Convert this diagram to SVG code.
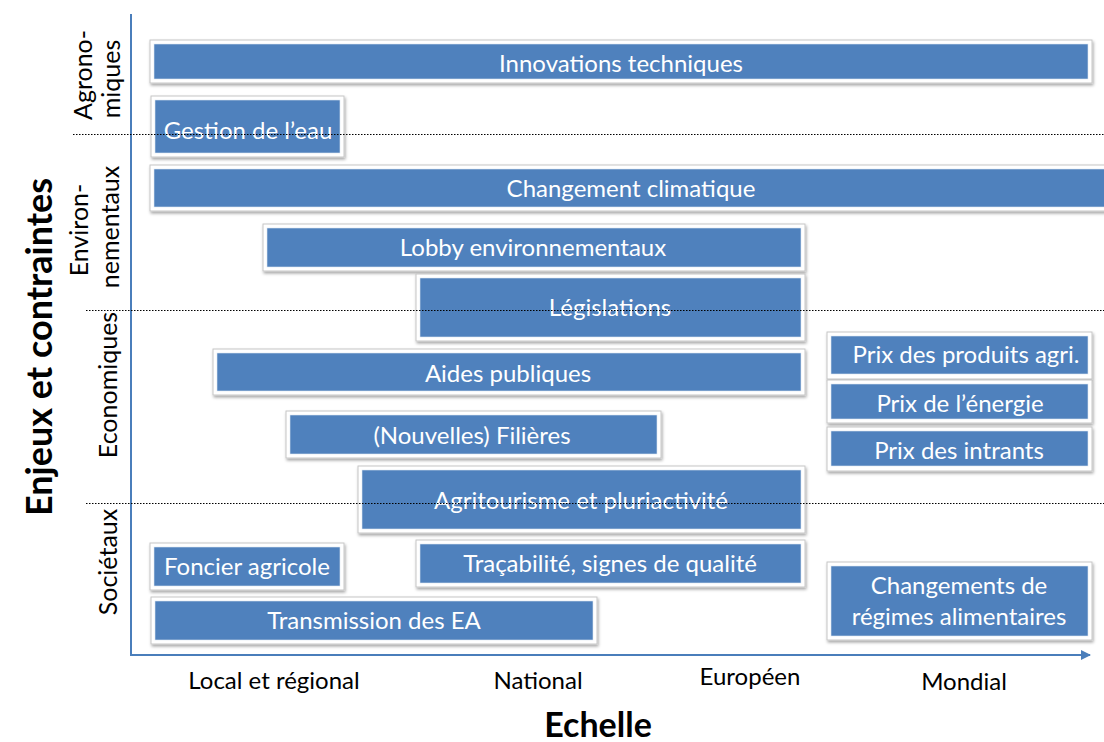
<svg xmlns="http://www.w3.org/2000/svg" width="1104" height="742" viewBox="0 0 1104 742">
<style>
.frame{fill:#ffffff;stroke:#c6c6c6;stroke-width:1;filter:url(#sh)}
.fill{fill:#4f81bd;stroke:#dce6f2;stroke-width:0.6}
.bt{font-family:Lato,"Open Sans",sans-serif;font-size:24px;fill:#ffffff;text-anchor:middle}
.lab{font-family:Lato,"Open Sans",sans-serif;font-size:24px;fill:#000000;text-anchor:middle}
.cat{font-family:Lato,"Open Sans",sans-serif;font-size:25px;fill:#000000;text-anchor:middle}
.title{font-family:Lato,"Open Sans",sans-serif;font-size:34px;font-weight:bold;fill:#000000;text-anchor:middle}
.dot{stroke:#000000;stroke-width:1.2;stroke-dasharray:1.5 1.5;fill:none}
.axis{stroke:#4a7ebb;stroke-width:2;fill:none}
</style>
<defs>
<filter id="sh" x="-5%" y="-20%" width="110%" height="150%">
<feDropShadow dx="1" dy="2" stdDeviation="1.5" flood-color="#000000" flood-opacity="0.35"/>
</filter>
<marker id="arr" viewBox="0 0 10 10" refX="9" refY="5" markerWidth="5" markerHeight="5" orient="auto" markerUnits="strokeWidth">
<path d="M0,0 L10,5 L0,10 Z" fill="#4a7ebb"/>
</marker>
</defs>
<rect width="1104" height="742" fill="#ffffff"/>

<g id="connectors">
<line class="axis" x1="131" y1="14" x2="131" y2="655"/>
<line class="axis" x1="130" y1="655" x2="1090" y2="655" marker-end="url(#arr)"/>
</g>

<g id="n-innovations"><rect class="frame" x="150" y="40" width="942" height="43"/><rect class="fill" x="154" y="44" width="934" height="35"/><text class="bt" x="621" y="72">Innovations techniques</text></g>
<g id="n-gestion-eau"><rect class="frame" x="151" y="96" width="193" height="61"/><rect class="fill" x="155" y="100" width="185" height="53"/><text class="bt" x="248" y="139">Gestion de l’eau</text></g>
<g id="n-changement-climatique"><rect class="frame" x="150" y="165" width="970" height="46"/><rect class="fill" x="154" y="169" width="962" height="38"/><text class="bt" x="631" y="197">Changement climatique</text></g>
<g id="n-lobby"><rect class="frame" x="263" y="224" width="542" height="47"/><rect class="fill" x="267" y="228" width="534" height="39"/><text class="bt" x="533" y="256">Lobby environnementaux</text></g>
<g id="n-legislations"><rect class="frame" x="416" y="274" width="389" height="67"/><rect class="fill" x="420" y="278" width="381" height="59"/><text class="bt" x="610" y="316">Législations</text></g>
<g id="n-aides"><rect class="frame" x="213" y="349" width="592" height="46"/><rect class="fill" x="217" y="353" width="584" height="38"/><text class="bt" x="508" y="382">Aides publiques</text></g>
<g id="n-filieres"><rect class="frame" x="286" y="411" width="375" height="47"/><rect class="fill" x="290" y="415" width="367" height="39"/><text class="bt" x="472" y="444">(Nouvelles) Filières</text></g>
<g id="n-agritourisme"><rect class="frame" x="358" y="466" width="447" height="67"/><rect class="fill" x="362" y="470" width="439" height="59"/><text class="bt" x="581" y="509">Agritourisme et pluriactivité</text></g>
<g id="n-tracabilite"><rect class="frame" x="416" y="540" width="389" height="47"/><rect class="fill" x="420" y="544" width="381" height="39"/><text class="bt" x="610" y="572">Traçabilité, signes de qualité</text></g>
<g id="n-foncier"><rect class="frame" x="150" y="543" width="194" height="47"/><rect class="fill" x="154" y="547" width="186" height="39"/><text class="bt" x="247" y="575">Foncier agricole</text></g>
<g id="n-transmission"><rect class="frame" x="151" y="597" width="446" height="47"/><rect class="fill" x="155" y="601" width="438" height="39"/><text class="bt" x="374" y="629">Transmission des EA</text></g>
<g id="n-prix-produits"><rect class="frame" x="827" y="332" width="265" height="47"/><rect class="fill" x="831" y="336" width="257" height="38"/><text class="bt" x="966" y="363">Prix des produits agri.</text></g>
<g id="n-prix-energie"><rect class="frame" x="827" y="380" width="265" height="43"/><rect class="fill" x="831" y="384" width="257" height="35"/><text class="bt" x="960" y="412">Prix de l’énergie</text></g>
<g id="n-prix-intrants"><rect class="frame" x="827" y="427" width="265" height="44"/><rect class="fill" x="831" y="431" width="257" height="35"/><text class="bt" x="959" y="459">Prix des intrants</text></g>
<g id="n-regimes"><rect class="frame" x="827" y="562" width="265" height="78"/><rect class="fill" x="831" y="566" width="257" height="70"/><text class="bt" x="959" y="594">Changements de</text><text class="bt" x="959" y="625">régimes alimentaires</text></g>

<g id="separators">
<line class="dot" x1="73" y1="134.5" x2="1104" y2="134.5"/>
<line class="dot" x1="86" y1="310.5" x2="1104" y2="310.5"/>
<line class="dot" x1="86" y1="503.5" x2="1104" y2="503.5"/>
</g>

<g id="categories">
<text class="cat" transform="translate(92,75) rotate(-90)">Agrono-</text>
<text class="cat" transform="translate(120,79) rotate(-90)">miques</text>
<text class="cat" transform="translate(88,230) rotate(-90)">Environ-</text>
<text class="cat" transform="translate(119,227) rotate(-90)">nementaux</text>
<text class="cat" transform="translate(117,385) rotate(-90)">Economiques</text>
<text class="cat" transform="translate(117,562) rotate(-90)">Sociétaux</text>
</g>

<g id="scale-labels">
<text class="lab" x="274" y="689">Local et régional</text>
<text class="lab" x="538" y="689">National</text>
<text class="lab" x="750" y="685">Européen</text>
<text class="lab" x="964" y="690">Mondial</text>
</g>

<text class="title" x="598" y="737">Echelle</text>
<text class="title" style="font-size:36px" transform="translate(52,347) rotate(-90)">Enjeux et contraintes</text>
</svg>
